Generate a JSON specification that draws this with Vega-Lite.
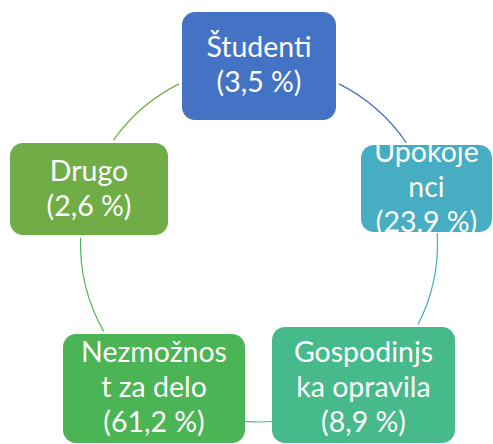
{
  "$schema": "https://vega.github.io/schema/vega-lite/v6.json",
  "width": 493,
  "height": 444,
  "padding": 0,
  "autosize": {"type": "none"},
  "background": "white",
  "config": {"view": {"stroke": null}},
  "datasets": {
    "nodes": [
      {"name": "Študenti", "label": "Študenti\n(3,5 %)", "share": 3.5, "x0": 182, "x1": 336, "y0": 12, "y1": 120, "xc": 259, "ty": 48},
      {"name": "Upokojenci", "label": "Upokoje\nnci\n(23,9 %)", "share": 23.9, "x0": 361, "x1": 492, "y0": 145, "y1": 232, "xc": 426.5, "ty": 153},
      {"name": "Gospodinjska opravila", "label": "Gospodinjs\nka opravila\n(8,9 %)", "share": 8.9, "x0": 272, "x1": 455, "y0": 327, "y1": 443, "xc": 363.5, "ty": 353},
      {"name": "Nezmožnost za delo", "label": "Nezmožnos\nt za delo\n(61,2 %)", "share": 61.2, "x0": 63, "x1": 245, "y0": 334, "y1": 443, "xc": 154, "ty": 353},
      {"name": "Drugo", "label": "Drugo\n(2,6 %)", "share": 2.6, "x0": 10, "x1": 168, "y0": 143, "y1": 235, "xc": 89, "ty": 172}
    ],
    "links": [
      {"from": "Študenti", "to": "Upokojenci", "a0": 26.6, "a1": 55.6, "cx": 259, "cy": 243.5},
      {"from": "Upokojenci", "to": "Gospodinjska opravila", "a0": 86.6, "a1": 117, "cx": 259, "cy": 243.5},
      {"from": "Gospodinjska opravila", "to": "Nezmožnost za delo", "a0": 175.8, "a1": 184.5, "cx": 259, "cy": 243.5},
      {"from": "Nezmožnost za delo", "to": "Drugo", "a0": 240.5, "a1": 271.8, "cx": 259, "cy": 243.5},
      {"from": "Drugo", "to": "Študenti", "a0": 305.4, "a1": 333.4, "cx": 259, "cy": 243.5}
    ]
  },
  "layer": [
    {
      "data": {"name": "nodes"},
      "mark": {"type": "rect", "cornerRadius": 13},
      "encoding": {
        "x": {"field": "x0", "type": "quantitative", "scale": {"domain": [0, 493], "nice": false, "zero": false}, "axis": null},
        "x2": {"field": "x1"},
        "y": {"field": "y0", "type": "quantitative", "scale": {"domain": [0, 444], "nice": false, "zero": false, "reverse": true}, "axis": null},
        "y2": {"field": "y1"},
        "color": {"field": "name", "type": "nominal", "legend": null,
          "scale": {"domain": ["Študenti", "Upokojenci", "Gospodinjska opravila", "Nezmožnost za delo", "Drugo"],
                    "range": ["#4472C4", "#47ADC2", "#46BA8B", "#4BB454", "#70AD47"]}}
      }
    },
    {
      "data": {"name": "nodes"},
      "mark": {"type": "text", "font": "Lato", "fontSize": 28.5, "lineHeight": 35, "lineBreak": "\n", "color": "white", "align": "center", "baseline": "middle"},
      "encoding": {
        "x": {"field": "xc", "type": "quantitative"},
        "y": {"field": "ty", "type": "quantitative"},
        "text": {"field": "label"}
      }
    },
    {
      "data": {"name": "links"},
      "mark": {"type": "arc", "filled": false, "outerRadius": 178.5, "innerRadius": 178.5, "strokeWidth": 1.2},
      "encoding": {
        "x": {"field": "cx", "type": "quantitative"},
        "y": {"field": "cy", "type": "quantitative"},
        "theta": {"field": "a0", "type": "quantitative", "scale": {"domain": [0, 360], "range": [0, 6.283185307]}},
        "theta2": {"field": "a1"},
        "color": {"field": "from", "type": "nominal", "legend": null}
      }
    }
  ]
}
